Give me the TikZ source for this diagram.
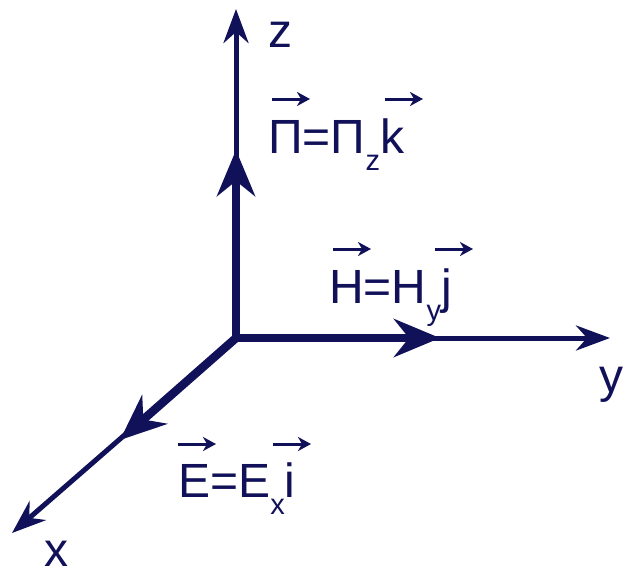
\documentclass[tikz,border=0pt]{standalone}
\usepackage{fontspec}
\setmainfont{Liberation Sans}
\usetikzlibrary{arrows.meta}
\definecolor{navy}{RGB}{17,17,89}
\newcommand{\sub}[1]{\raisebox{-17pt}{\fontsize{29}{29}\selectfont #1}}
\tikzset{
  axis/.style={draw=navy, line width=5pt, -{Stealth[length=34pt,width=25pt,inset=11pt]}},
  vect/.style={draw=navy, line width=8.5pt, -{Stealth[length=46pt,width=38pt,inset=15pt]}},
  overarr/.style={draw=navy, line width=3pt, -{Stealth[length=13pt,width=14pt,inset=4pt]}},
  lbl/.style={text=navy, inner sep=0pt, anchor=base west, font=\fontsize{48}{48}\selectfont}
}
\begin{document}
\begin{tikzpicture}[x=1pt,y=-1pt]
\useasboundingbox (0,0) rectangle (623,574);
\coordinate (O) at (236,338);
\coordinate (zt) at (236,9);
\coordinate (yt) at (610,338);
\coordinate (xt) at (12,533);
\coordinate (zv) at (236,150);
\coordinate (yv) at (440,338);
\coordinate (xv) at (120,440);
% axes
\draw[axis] (O) -- (zt);
\draw[axis] (O) -- (yt);
\draw[axis] (O) -- (xt);
% vectors
\draw[vect] (O) -- (zv);
\draw[vect] (O) -- (yv);
\draw[vect] (O) -- (xv);
% axis labels
\node[lbl] (lz) at (268,47) {z};
\node[lbl] (ly) at (599,392) {y};
\node[lbl] (lx) at (44,566) {x};
% vector labels
\node[lbl] (lp) at (268,153) {Π=Π\sub{z}k};
\node[lbl] (lh) at (329,303) {H=H\sub{y}j};
\node[lbl] (le) at (178,497) {E=E\sub{x}i};
% arrows over letters
\draw[overarr] ([shift={(4,-54)}]lp.base west) -- ++(38,0);
\draw[overarr] ([shift={(117,-54)}]lp.base west) -- ++(38,0);
\draw[overarr] ([shift={(4,-54)}]lh.base west) -- ++(38,0);
\draw[overarr] ([shift={(106,-54)}]lh.base west) -- ++(38,0);
\draw[overarr] ([shift={(0,-53)}]le.base west) -- ++(38,0);
\draw[overarr] ([shift={(95,-53)}]le.base west) -- ++(38,0);
\end{tikzpicture}
\end{document}
